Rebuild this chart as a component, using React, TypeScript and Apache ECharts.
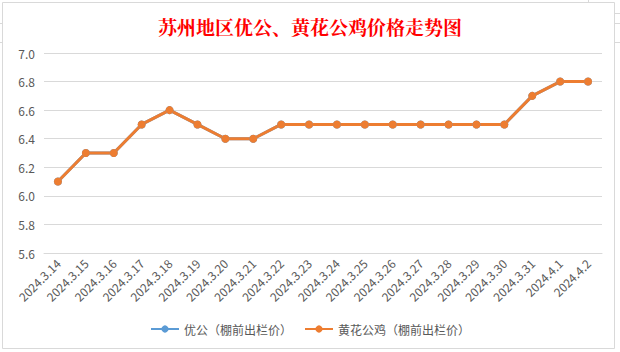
import React, { useEffect, useRef } from "react";
import * as echarts from "echarts";

const titleText = "苏州地区优公、黄花公鸡价格走势图";
const dates = [
  "2024.3.14", "2024.3.15", "2024.3.16", "2024.3.17", "2024.3.18",
  "2024.3.19", "2024.3.20", "2024.3.21", "2024.3.22", "2024.3.23",
  "2024.3.24", "2024.3.25", "2024.3.26", "2024.3.27", "2024.3.28",
  "2024.3.29", "2024.3.30", "2024.3.31", "2024.4.1", "2024.4.2",
];
const youGongName = "优公（棚前出栏价）";
const huangHuaName = "黄花公鸡（棚前出栏价）";
const youGongPrices = [6.1, 6.3, 6.3, 6.5, 6.6, 6.5, 6.4, 6.4, 6.5, 6.5, 6.5, 6.5, 6.5, 6.5, 6.5, 6.5, 6.5, 6.7, 6.8, 6.8];
const huangHuaPrices = [6.1, 6.3, 6.3, 6.5, 6.6, 6.5, 6.4, 6.4, 6.5, 6.5, 6.5, 6.5, 6.5, 6.5, 6.5, 6.5, 6.5, 6.7, 6.8, 6.8];

const textFont = "'Noto Sans CJK SC', 'Noto Sans', sans-serif";

export default function App() {
  const ref = useRef<HTMLDivElement>(null);
  useEffect(() => {
    if (!ref.current) return;
    const chart = echarts.init(ref.current, undefined, { renderer: "svg" });
    chart.setOption({
      animation: false,
      backgroundColor: "#ffffff",
      graphic: [
        {
          type: "rect",
          shape: { x: 2.5, y: 2.5, width: 612, height: 346 },
          style: { fill: "none", stroke: "#d9d9d9", lineWidth: 1 },
          z: -1,
        },
        { type: "line", shape: { x1: 588.5, y1: 0, x2: 588.5, y2: 2 }, style: { stroke: "#d9d9d9" } },
        { type: "line", shape: { x1: 615, y1: 13.5, x2: 620, y2: 13.5 }, style: { stroke: "#d9d9d9" } },
        { type: "line", shape: { x1: 615, y1: 23.5, x2: 620, y2: 23.5 }, style: { stroke: "#d9d9d9" } },
        { type: "line", shape: { x1: 615, y1: 42.5, x2: 620, y2: 42.5 }, style: { stroke: "#d9d9d9" } },
        { type: "line", shape: { x1: 0, y1: 23.5, x2: 2, y2: 23.5 }, style: { stroke: "#d9d9d9" } },
        { type: "line", shape: { x1: 0, y1: 42.5, x2: 2, y2: 42.5 }, style: { stroke: "#d9d9d9" } },
      ],
      title: {
        text: titleText,
        left: "center",
        top: 12,
        textStyle: {
          color: "#ff0000",
          fontSize: 19,
          fontWeight: "bold",
          fontFamily: "'Noto Serif CJK SC', serif",
        },
      },
      grid: { left: 44, right: 18, top: 53, bottom: 99, containLabel: false },
      legend: {
        bottom: 12,
        left: "center",
        itemWidth: 28,
        itemHeight: 9,
        itemGap: 12,
        textStyle: { color: "#595959", fontSize: 12, fontFamily: textFont },
        data: [youGongName, huangHuaName],
      },
      xAxis: {
        type: "category",
        data: dates,
        boundaryGap: true,
        axisLine: { show: true, lineStyle: { color: "#d9d9d9" } },
        axisTick: { show: false },
        axisLabel: {
          rotate: 45,
          interval: 0,
          color: "#595959",
          fontSize: 12,
          margin: 8,
          fontFamily: textFont,
        },
      },
      yAxis: {
        type: "value",
        min: 5.6,
        max: 7.0,
        interval: 0.2,
        axisLine: { show: false },
        axisTick: { show: false },
        splitLine: { lineStyle: { color: "#d9d9d9" } },
        axisLabel: {
          color: "#595959",
          fontSize: 12,
          margin: 9,
          fontFamily: textFont,
          formatter: (v: number) => v.toFixed(1),
        },
      },
      series: [
        {
          name: youGongName,
          type: "line",
          data: youGongPrices,
          color: "#5b9bd5",
          symbol: "circle",
          symbolSize: 8,
          lineStyle: { width: 3, color: "#5b9bd5" },
          itemStyle: { color: "#5b9bd5" },
        },
        {
          name: huangHuaName,
          type: "line",
          data: huangHuaPrices,
          color: "#ed7d31",
          symbol: "circle",
          symbolSize: 8,
          lineStyle: { width: 3, color: "#ed7d31" },
          itemStyle: { color: "#ed7d31" },
        },
      ],
    });
    return () => chart.dispose();
  }, []);
  return (
    <div
      ref={ref}
      style={{ position: "fixed", left: 0, top: 0, width: 620, height: 352 }}
    />
  );
}
